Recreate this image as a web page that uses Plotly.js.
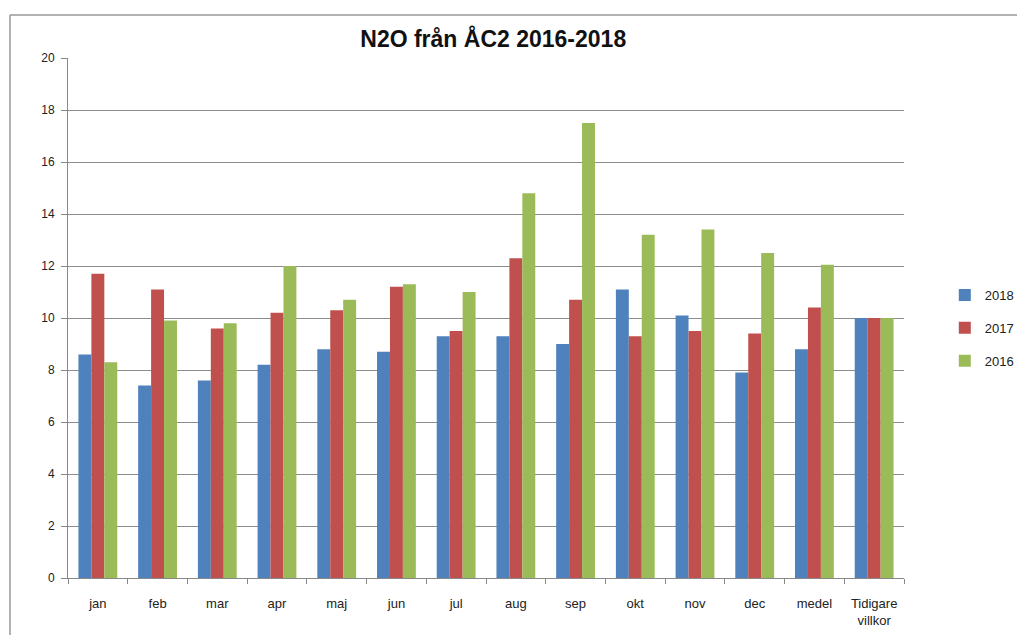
<!DOCTYPE html>
<html><head><meta charset="utf-8">
<script src="https://cdn.plot.ly/plotly-3.0.1.min.js"></script>
<style>html,body{margin:0;padding:0;background:#fff}#chart{width:1017px;height:635px}</style>
</head><body><div id="chart"></div>
<script>
const categories = ["jan","feb","mar","apr","maj","jun","jul","aug","sep","okt","nov","dec","medel","Tidigare<br>villkor"];
const values2018 = [8.6, 7.4, 7.6, 8.2, 8.8, 8.7, 9.3, 9.3, 9.0, 11.1, 10.1, 7.9, 8.8, 10.0];
const values2017 = [11.7, 11.1, 9.6, 10.2, 10.3, 11.2, 9.5, 12.3, 10.7, 9.3, 9.5, 9.4, 10.4, 10.0];
const values2016 = [8.3, 9.9, 9.8, 12.0, 10.7, 11.3, 11.0, 14.8, 17.5, 13.2, 13.4, 12.5, 12.05, 10.0];
const seriesNames = ["2018","2017","2016"];
const yTicks = [0,2,4,6,8,10,12,14,16,18,20];

const FONT = "Liberation Sans, Arial, sans-serif";
const colors = ["#4F81BD","#C0504D","#9BBB59"];
const data = [values2018, values2017, values2016].map((v,i)=>({
  type:"bar", x:categories, y:v, name:seriesNames[i], legendgroup:"g"+i,
  marker:{color:colors[i], line:{width:0}}, hoverinfo:"x+y+name"
}));

const layout = {
  width:1017, height:635,
  margin:{l:68, r:113, t:58, b:57, autoexpand:false},
  paper_bgcolor:"#fff", plot_bgcolor:"#fff",
  font:{family:FONT, size:12, color:"#222"},
  title:{text:"<b>N2O från ÅC2 2016-2018</b>", x:0.485, xanchor:"center", y:0.938, yanchor:"middle",
    font:{family:FONT, size:23, color:"#111"}},
  barmode:"group", bargap:0.35, bargroupgap:0,
  xaxis:{type:"category", showline:true, linecolor:"#888", linewidth:1,
    ticks:"outside", tickson:"boundaries", ticklen:5, tickcolor:"#888", ticklabelstandoff:13,
    tickfont:{family:FONT, size:13, color:"#222"}, showgrid:false, fixedrange:true},
  yaxis:{range:[0,20], tickvals:yTicks, showline:true, linecolor:"#888", linewidth:1,
    ticks:"outside", ticklen:6, tickcolor:"#888", ticklabelstandoff:4, showgrid:true, gridcolor:"#8c8c8c", gridwidth:1,
    zeroline:false, tickfont:{family:FONT, size:12, color:"#222"}, fixedrange:true},
  legend:{xref:"container", yref:"container", x:0.929, y:0.4835, xanchor:"left", yanchor:"middle", traceorder:"grouped",
    font:{family:FONT, size:13, color:"#222"}, itemwidth:30, tracegroupgap:13},
  shapes:[
    {type:"line", xref:"paper", yref:"paper", x0:-0.0694, x1:1.2, y0:1.0827, y1:1.0827, line:{color:"#999", width:1.5}},
    {type:"line", xref:"paper", yref:"paper", x0:-0.0694, x1:-0.0694, y0:1.0827, y1:-0.11, line:{color:"#999", width:1.5}}
  ]
};
Plotly.newPlot("chart", data, layout, {displayModeBar:false, staticPlot:true});
</script></body></html>
